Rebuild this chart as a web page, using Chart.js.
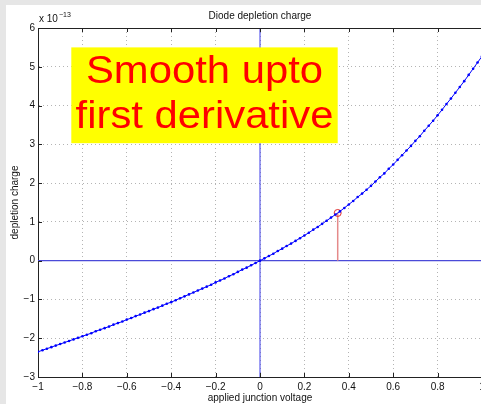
<!DOCTYPE html>
<html>
<head>
<meta charset="utf-8">
<script src="https://cdn.jsdelivr.net/npm/chart.js@4"></script>
<style>
html, body { margin: 0; padding: 0; background: #e6e6e6; overflow: hidden; }
#wrap { width: 481px; height: 404px; overflow: hidden; position: relative; }
canvas { position: absolute; left: 0; top: 0; }
</style>
</head>
<body>
<div id="wrap"><canvas id="myChart" width="500" height="404"></canvas></div>
<script>
// applied voltage (V) and depletion charge (x 1e-13)
const voltage = [
  -1.00, -0.98, -0.96, -0.94, -0.92, -0.90, -0.88, -0.86, -0.84, -0.82,
  -0.80, -0.78, -0.76, -0.74, -0.72, -0.70, -0.68, -0.66, -0.64, -0.62,
  -0.60, -0.58, -0.56, -0.54, -0.52, -0.50, -0.48, -0.46, -0.44, -0.42,
  -0.40, -0.38, -0.36, -0.34, -0.32, -0.30, -0.28, -0.26, -0.24, -0.22,
  -0.20, -0.18, -0.16, -0.14, -0.12, -0.10, -0.08, -0.06, -0.04, -0.02,
   0.00,  0.02,  0.04,  0.06,  0.08,  0.10,  0.12,  0.14,  0.16,  0.18,
   0.20,  0.22,  0.24,  0.26,  0.28,  0.30,  0.32,  0.34,  0.36,  0.38,
   0.40,  0.42,  0.44,  0.46,  0.48,  0.50,  0.52,  0.54,  0.56,  0.58,
   0.60,  0.62,  0.64,  0.66,  0.68,  0.70,  0.72,  0.74,  0.76,  0.78,
   0.80,  0.82,  0.84,  0.86,  0.88,  0.90,  0.92,  0.94,  0.96,  0.98,
   1.00
];
const charge = [
  -2.35, -2.31, -2.27, -2.23, -2.19, -2.15, -2.11, -2.07, -2.03, -1.99,
  -1.95, -1.91, -1.87, -1.82, -1.78, -1.74, -1.70, -1.65, -1.61, -1.57,
  -1.52, -1.48, -1.43, -1.39, -1.34, -1.30, -1.25, -1.21, -1.16, -1.11,
  -1.07, -1.02, -0.97, -0.92, -0.87, -0.82, -0.77, -0.72, -0.67, -0.62,
  -0.56, -0.51, -0.46, -0.40, -0.35, -0.29, -0.23, -0.18, -0.12, -0.06,
   0.00,  0.06,  0.12,  0.18,  0.25,  0.31,  0.38,  0.44,  0.51,  0.58,
   0.65,  0.72,  0.80,  0.87,  0.95,  1.03,  1.11,  1.19,  1.27,  1.36,
   1.45,  1.54,  1.64,  1.73,  1.83,  1.93,  2.04,  2.15,  2.25,  2.37,
   2.48,  2.60,  2.72,  2.84,  2.96,  3.09,  3.21,  3.35,  3.48,  3.61,
   3.75,  3.89,  4.04,  4.18,  4.33,  4.48,  4.63,  4.79,  4.95,  5.11,
   5.27
];

// marked point (stem from the axis)
const stemVoltage = [0.35, 0.35];
const stemCharge = [0, 1.23];

// axis cross lines
const zeroVertX = [0, 0];
const zeroVertY = [-3, 6];
const zeroHorzX = [-1, 1];
const zeroHorzY = [0, 0];

const xTickValues = [-1, -0.8, -0.6, -0.4, -0.2, 0, 0.2, 0.4, 0.6, 0.8, 1];
const xTickLabels = ['\u22121', '\u22120.8', '\u22120.6', '\u22120.4', '\u22120.2', '0', '0.2', '0.4', '0.6', '0.8', '1'];
const yTickValues = [-3, -2, -1, 0, 1, 2, 3, 4, 5, 6];
const yTickLabels = ['\u22123', '\u22122', '\u22121', '0', '1', '2', '3', '4', '5', '6'];

const FONT = 'Liberation Sans, Arial, Helvetica, sans-serif';

function toPoints(xs, ys) {
    return xs.map((x, i) => ({ x: x, y: ys[i] }));
}

// grey figure border + white panel
const figureBg = {
    id: 'figureBg',
    beforeDraw(chart) {
        const ctx = chart.ctx;
        ctx.save();
        ctx.fillStyle = '#e6e6e6';
        ctx.fillRect(0, 0, chart.width, chart.height);
        ctx.fillStyle = '#ffffff';
        ctx.fillRect(6, 5, chart.width - 6, chart.height - 5);
        ctx.restore();
    }
};

// yellow note box
const noteBox = {
    id: 'noteBox',
    afterDatasetsDraw(chart) {
        const ctx = chart.ctx;
        const xs = chart.scales.x, ys = chart.scales.y;
        const l = xs.getPixelForValue(-0.85), r = xs.getPixelForValue(0.35);
        const t = ys.getPixelForValue(5.5), b = ys.getPixelForValue(3.03);
        ctx.save();
        ctx.fillStyle = '#ffff00';
        ctx.fillRect(l, t, r - l, b - t);
        ctx.fillStyle = '#ff0000';
        ctx.font = '38px ' + FONT;
        ctx.textAlign = 'center';
        ctx.textBaseline = 'alphabetic';
        const cx = (l + r) / 2;
        [['Smooth upto', 4.575], ['first derivative', 3.414]].forEach(([txt, v]) => {
            ctx.save();
            ctx.translate(cx, ys.getPixelForValue(v));
            ctx.scale(1.1, 1);
            ctx.fillText(txt, 0, 0);
            ctx.restore();
        });
        ctx.restore();
    }
};

// box top edge, inner tick marks, exponent label
const axesExtras = {
    id: 'axesExtras',
    afterDraw(chart) {
        const ctx = chart.ctx;
        const a = chart.chartArea;
        const xs = chart.scales.x, ys = chart.scales.y;
        ctx.save();
        ctx.strokeStyle = '#222';
        ctx.lineWidth = 1;
        ctx.beginPath();
        ctx.moveTo(a.left, Math.round(a.top) + 0.5);
        ctx.lineTo(a.right, Math.round(a.top) + 0.5);
        xTickValues.forEach(v => {
            const px = Math.round(xs.getPixelForValue(v)) + 0.5;
            ctx.moveTo(px, a.bottom); ctx.lineTo(px, a.bottom - 4);
            ctx.moveTo(px, a.top); ctx.lineTo(px, a.top + 4);
        });
        yTickValues.forEach(v => {
            const py = Math.round(ys.getPixelForValue(v)) + 0.5;
            ctx.moveTo(a.left, py); ctx.lineTo(a.left + 4, py);
        });
        ctx.stroke();

        ctx.fillStyle = '#111';
        ctx.font = '10px ' + FONT;
        ctx.textBaseline = 'alphabetic';
        ctx.fillText('x 10', 39, 22);
        const w = ctx.measureText('x 10').width;
        ctx.font = '7px ' + FONT;
        ctx.fillText('\u221213', 39 + w + 1, 17);
        ctx.restore();
    }
};

const ctx = document.getElementById('myChart').getContext('2d');
new Chart(ctx, {
    type: 'line',
    data: {
        datasets: [{
            data: toPoints(voltage, charge),
            borderColor: '#0000ff',
            borderWidth: 1,
            pointRadius: 1.3,
            pointBackgroundColor: '#0000ff',
            pointBorderWidth: 0,
            tension: 0
        }, {
            data: toPoints(stemVoltage, stemCharge),
            borderColor: '#e58a8a',
            borderWidth: 1.5,
            pointRadius: [0, 3.5],
            pointBorderColor: '#e03030',
            pointBackgroundColor: 'rgba(0,0,0,0)',
            pointBorderWidth: 1
        }, {
            data: toPoints(zeroVertX, zeroVertY),
            borderColor: '#3a3ae8',
            borderWidth: 1,
            pointRadius: 0
        }, {
            data: toPoints(zeroHorzX, zeroHorzY),
            borderColor: '#4a4ad8',
            borderWidth: 1.2,
            pointRadius: 0
        }]
    },
    options: {
        responsive: false,
        devicePixelRatio: 1,
        animation: false,
        layout: { padding: { left: 6, right: 18, top: 5, bottom: 0 } },
        plugins: {
            legend: { display: false },
            tooltip: { enabled: false },
            title: {
                display: true,
                text: 'Diode depletion charge',
                fullSize: false,
                color: '#111',
                font: { family: FONT, size: 10, weight: 'normal' },
                padding: { top: 5, bottom: 6 }
            }
        },
        scales: {
            x: {
                type: 'linear',
                min: -1,
                max: 1,
                afterBuildTicks: s => { s.ticks = xTickValues.map(v => ({ value: v })); },
                afterFit: s => { s.height = 27; },
                grid: { color: '#b4b4b4', drawTicks: false },
                border: { display: true, color: '#222', width: 1, dash: [1, 3] },
                ticks: {
                    color: '#111',
                    font: { family: FONT, size: 10 },
                    padding: 4,
                    maxRotation: 0,
                    autoSkip: false,
                    callback: (v, i) => xTickLabels[i]
                },
                title: {
                    display: true,
                    text: 'applied junction voltage',
                    color: '#111',
                    font: { family: FONT, size: 10 },
                    padding: { top: 0, bottom: 0 }
                }
            },
            y: {
                type: 'linear',
                min: -3,
                max: 6,
                afterBuildTicks: s => { s.ticks = yTickValues.map(v => ({ value: v })); },
                afterFit: s => { s.width = 32; },
                grid: { color: '#b4b4b4', drawTicks: false },
                border: { display: true, color: '#222', width: 1, dash: [1, 3] },
                ticks: {
                    color: '#111',
                    font: { family: FONT, size: 10 },
                    padding: 3,
                    autoSkip: false,
                    callback: (v, i) => yTickLabels[i]
                },
                title: {
                    display: true,
                    text: 'depletion charge',
                    color: '#111',
                    font: { family: FONT, size: 10 },
                    padding: { top: 3, bottom: 0 }
                }
            }
        }
    },
    plugins: [figureBg, noteBox, axesExtras]
});
</script>
</body>
</html>
